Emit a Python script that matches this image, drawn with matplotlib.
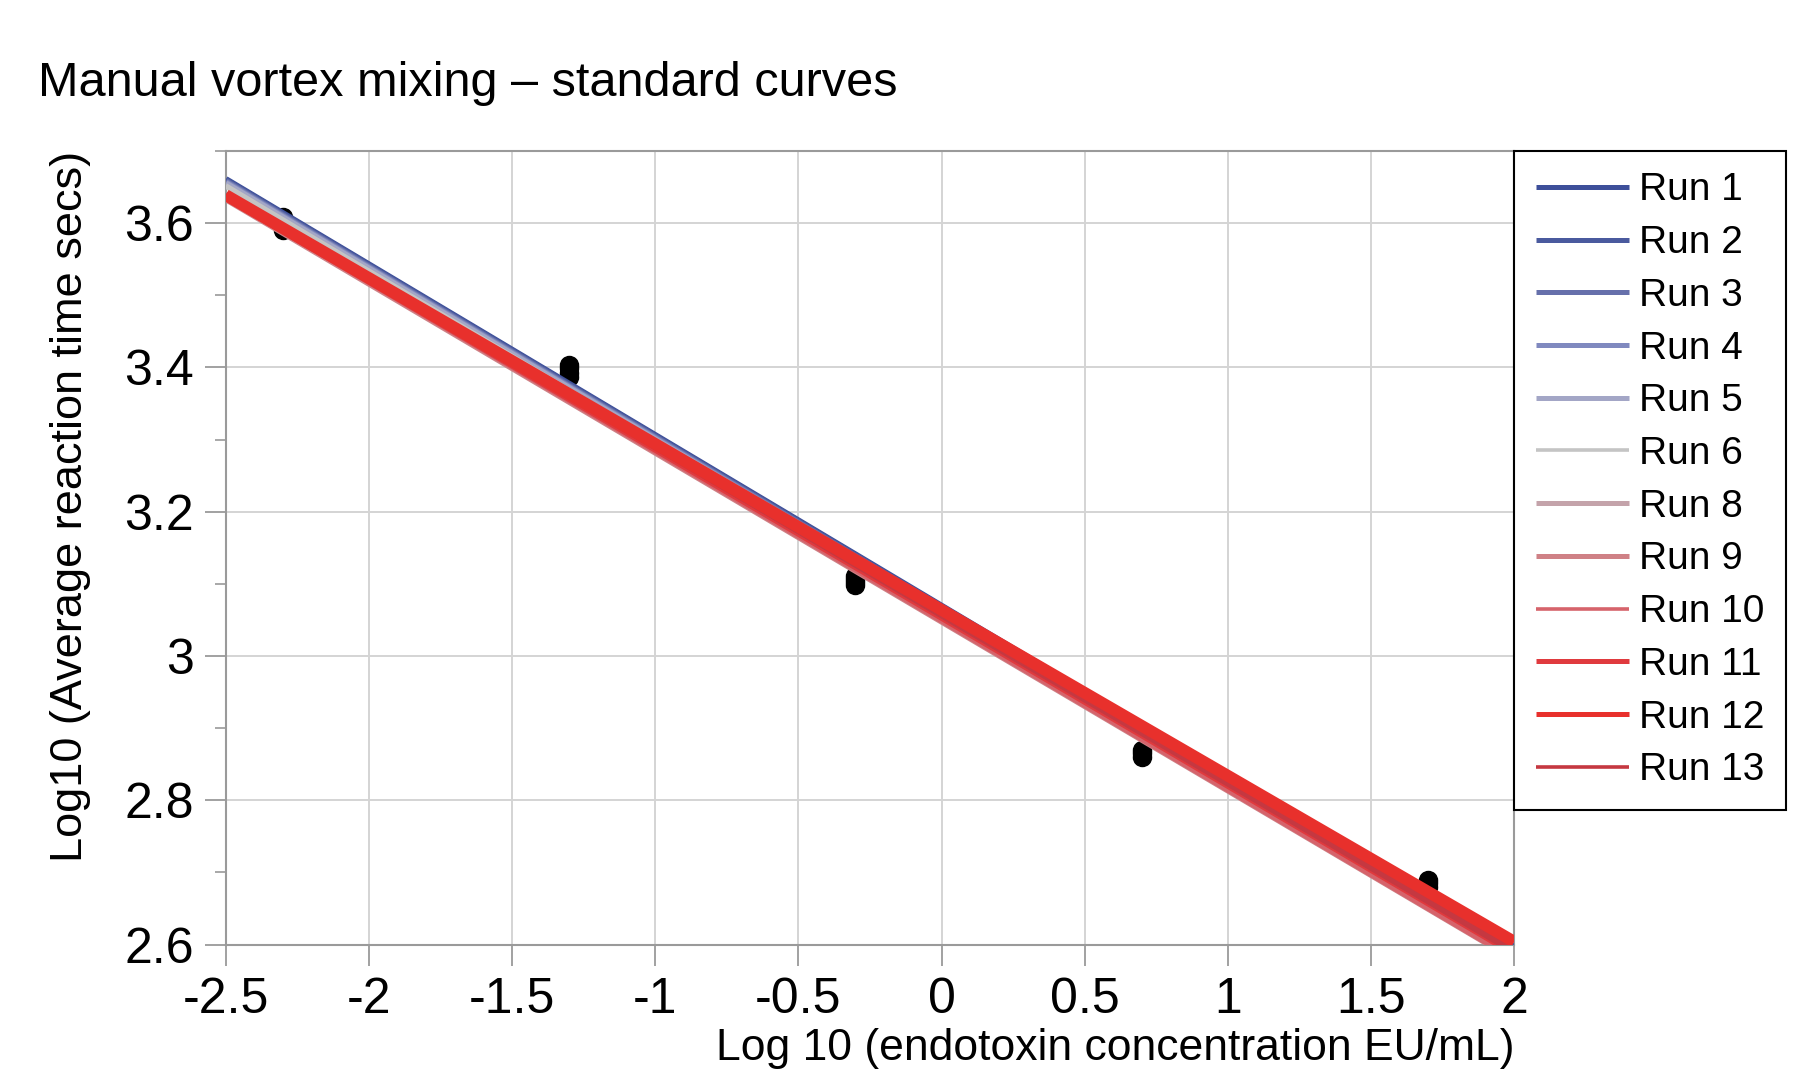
import numpy as np
import matplotlib
matplotlib.use('Agg')
import matplotlib.pyplot as plt
from matplotlib.ticker import MultipleLocator

plt.rcParams['font.family'] = ['Liberation Sans Narrow', 'Liberation Sans', 'DejaVu Sans']

# standard curve fits (log10 time = intercept + slope * log10 conc)
runs = ['Run 1', 'Run 2', 'Run 3', 'Run 4', 'Run 5', 'Run 6',
        'Run 8', 'Run 9', 'Run 10', 'Run 11', 'Run 12', 'Run 13']
intercepts = [3.0690, 3.0676, 3.0661, 3.0646, 3.0631, 3.0606,
              3.0510, 3.0485, 3.0490, 3.0560, 3.0640, 3.0565]
slopes = [-0.2366, -0.2366, -0.2366, -0.2366, -0.2366, -0.2364,
          -0.2340, -0.2342, -0.2345, -0.2330, -0.2300, -0.2332]
colors = ['#3d4f9a', '#4a5a9e', '#6670ab', '#8089bf', '#a3a6c6', '#c4c4c4',
          '#c4a3aa', '#cf8186', '#d6636b', '#e03a3e', '#e8302c', '#c53841']
line_w = [5, 5, 5, 5, 5, 4, 5, 5, 4, 7, 8.5, 4.5]
legend_w = [3.6, 3.6, 3.6, 3.6, 3.6, 2.6, 3.6, 3.6, 2.6, 3.6, 3.6, 2.6]

# replicate standards (log10 EU/mL, log10 mean reaction time)
std_x = [-2.301, -2.301, -2.301, -2.301,
         -1.301, -1.301, -1.301, -1.301,
         -0.301, -0.301, -0.301, -0.301,
         0.699, 0.699, 0.699,
         1.699, 1.699, 1.699]
std_y = [3.590, 3.597, 3.603, 3.609,
         3.387, 3.393, 3.399, 3.404,
         3.099, 3.103, 3.107, 3.111,
         2.860, 2.865, 2.870,
         2.680, 2.685, 2.690]

X_RANGE = np.array([-2.5, 2.0])

fig = plt.figure(figsize=(18.2, 10.71), dpi=100)
ax = fig.add_axes([0.124, 0.118, 0.708, 0.741])

ax.plot(std_x, std_y, 'o', color='black', ms=13, zorder=2)
for name, a, b, c, w in zip(runs, intercepts, slopes, colors, line_w):
    z = 4 if name == 'Run 12' else 3   # the bright red fit sits on top of the band
    ax.plot(X_RANGE, a + b * X_RANGE, color=c, lw=w, label=name, zorder=z,
            solid_capstyle='butt')

ax.set_xlim(-2.5, 2.0)
ax.set_ylim(2.6, 3.7)
ax.set_xticks(np.arange(-2.5, 2.01, 0.5))
ax.set_xticklabels(['-2.5', '-2', '-1.5', '-1', '-0.5', '0', '0.5', '1', '1.5', '2'])
ax.set_yticks([2.6, 2.8, 3.0, 3.2, 3.4, 3.6])
ax.set_yticklabels(['2.6', '2.8', '3', '3.2', '3.4', '3.6'])
ax.yaxis.set_minor_locator(MultipleLocator(0.1))
ax.grid(True, which='major', color='#d4d4d4', lw=1.4, zorder=0)
ax.set_axisbelow(True)
for s in ax.spines.values():
    s.set_color('#9a9a9a')
    s.set_linewidth(1.5)
ax.tick_params(axis='both', which='major', labelsize=36, color='#9a9a9a',
               length=15, width=1.3, pad=8)
ax.tick_params(axis='y', which='minor', color='#9a9a9a', length=8, width=1.2)

ax.set_xlabel('Log 10 (endotoxin concentration EU/mL)', fontsize=32, loc='right', labelpad=4)
ax.set_ylabel('Log10 (Average reaction time secs)', fontsize=32.5, loc='top', labelpad=24)

fig.text(0.021, 0.922, 'Manual vortex mixing \u2013 standard curves', fontsize=35,
         va='center', ha='left')

leg = ax.legend(loc='upper left', bbox_to_anchor=(1.0, 1.0), borderaxespad=0,
                fontsize=28, frameon=True, fancybox=False, framealpha=1,
                handlelength=2.4, handletextpad=0.25, labelspacing=0.43,
                borderpad=0.55)
leg.get_frame().set_edgecolor('black')
leg.get_frame().set_linewidth(1.5)
for ln, w in zip(leg.get_lines(), legend_w):
    ln.set_linewidth(w)

fig.savefig('out.png', dpi=100)
